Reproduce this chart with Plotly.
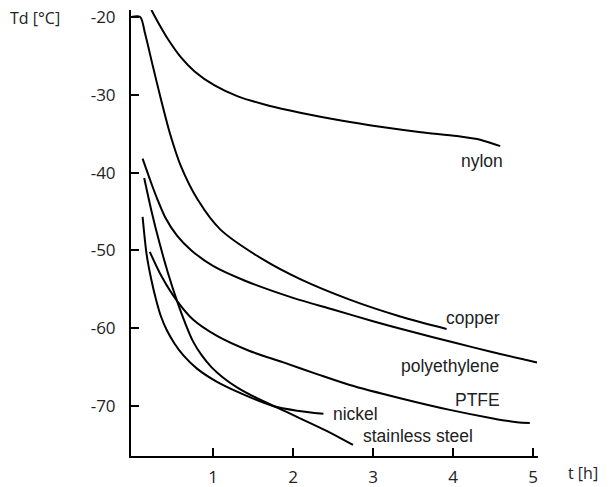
import plotly.graph_objects as go

# ---- data ----
nylon_t = [0.23, 0.33, 0.44, 0.6, 0.77, 1.02, 1.31, 1.7, 2.09, 2.6, 3.09, 3.6, 4.05, 4.35, 4.59]
nylon_td = [-19.1, -21.0, -22.9, -25.2, -27.0, -28.8, -30.2, -31.4, -32.3, -33.3, -34.1, -34.8, -35.3, -35.8, -36.6]

copper_t = [-0.025, 0.09, 0.15, 0.25, 0.35, 0.46, 0.6, 0.81, 1.09, 1.63, 2.09, 2.7, 3.34, 3.92]
copper_td = [-20.0, -20.0, -22.1, -26.4, -30.6, -34.9, -39.2, -43.5, -47.3, -51.2, -53.7, -56.3, -58.5, -60.1]

pe_t = [0.12, 0.23, 0.3, 0.4, 0.55, 0.73, 1.0, 1.4, 2.0, 2.5, 3.0, 3.5, 4.0, 4.5, 5.05]
pe_td = [-38.2, -41.4, -43.3, -45.7, -48.1, -50.0, -52.0, -53.9, -56.1, -57.6, -59.1, -60.5, -61.8, -63.1, -64.4]

ptfe_t = [0.21, 0.36, 0.55, 0.75, 1.05, 1.45, 1.88, 2.3, 2.71, 3.34, 3.96, 4.5, 4.8, 4.96]
ptfe_td = [-50.2, -53.4, -56.5, -58.9, -61.0, -62.9, -64.4, -65.9, -67.3, -69.0, -70.5, -71.6, -72.1, -72.2]

nickel_t = [0.12, 0.17, 0.23, 0.29, 0.35, 0.42, 0.52, 0.63, 0.8, 1.05, 1.4, 1.75, 2.05, 2.38]
nickel_td = [-45.7, -50.5, -53.8, -56.4, -58.5, -60.2, -62.0, -63.5, -65.2, -66.9, -68.6, -70.0, -70.6, -71.0]

ss_t = [0.14, 0.23, 0.33, 0.44, 0.55, 0.65, 0.75, 0.86, 0.98, 1.12, 1.3, 1.55, 1.8, 2.05, 2.4, 2.75]
ss_td = [-40.7, -44.9, -49.0, -53.0, -56.5, -59.3, -61.7, -63.5, -65.0, -66.3, -67.6, -69.0, -70.2, -71.4, -73.1, -75.0]

series = [
    ("nylon", nylon_t, nylon_td),
    ("copper", copper_t, copper_td),
    ("polyethylene", pe_t, pe_td),
    ("PTFE", ptfe_t, ptfe_td),
    ("nickel", nickel_t, nickel_td),
    ("stainless steel", ss_t, ss_td),
]

# label positions (t, Td)
label_names = ["nylon", "copper", "polyethylene", "PTFE", "nickel", "stainless steel"]
label_t = [4.36, 4.25, 3.96, 4.3, 2.78, 3.56]
label_td = [-38.5, -58.7, -64.9, -69.2, -71.0, -73.8]

x_ticks = [1, 2, 3, 4, 5]
y_ticks = [-20, -30, -40, -50, -60, -70]

fig = go.Figure()
for name, t, td in series:
    fig.add_trace(go.Scatter(
        x=t, y=td, mode="lines", name=name,
        line=dict(color="black", width=2, shape="spline", smoothing=0.8),
        showlegend=False, hoverinfo="skip",
    ))

for n, t, td in zip(label_names, label_t, label_td):
    fig.add_annotation(x=t, y=td, text=n, showarrow=False,
                       font=dict(family="Liberation Sans, Arial", size=17.5, color="#222"),
                       xanchor="center", yanchor="middle")

axis_font = dict(family="Open Sans, Noto Sans", size=16, color="#222")
tick_font = dict(family="Open Sans, Noto Sans", size=17, color="#222")

fig.add_annotation(xref="paper", yref="paper", x=-0.302, y=0.982, text="Td [°C]",
                   showarrow=False, xanchor="left", yanchor="middle", font=axis_font)
fig.add_annotation(xref="paper", yref="paper", x=1.11, y=-0.038, text="t [h]",
                   showarrow=False, xanchor="center", yanchor="middle", font=axis_font)

fig.update_xaxes(
    range=[-0.025, 5.0625], tickvals=x_ticks, ticktext=[str(v) for v in x_ticks],
    ticks="inside", ticklen=8, tickwidth=1.5, tickcolor="black",
    showline=True, linecolor="black", linewidth=2, showgrid=False, zeroline=False,
    tickfont=tick_font, ticklabelstandoff=5, automargin=False, ticklabeloverflow="allow",
)
fig.update_yaxes(
    range=[-76.43, -19.1], tickvals=y_ticks, ticktext=[str(v) for v in y_ticks],
    ticks="inside", ticklen=8, tickwidth=1.5, tickcolor="black",
    showline=True, linecolor="black", linewidth=2, showgrid=False, zeroline=False,
    tickfont=tick_font, ticklabelstandoff=10, automargin=False, ticklabeloverflow="allow",
)
fig.update_layout(
    width=613, height=487,
    margin=dict(l=131, r=75, t=10, b=31),
    plot_bgcolor="white", paper_bgcolor="white",
)
# remove the browser's default 8px body margin so the figure sits at (0, 0)
fig.write_html("out.html", config={"displayModeBar": False},
               post_script="document.body.style.margin='0';")
